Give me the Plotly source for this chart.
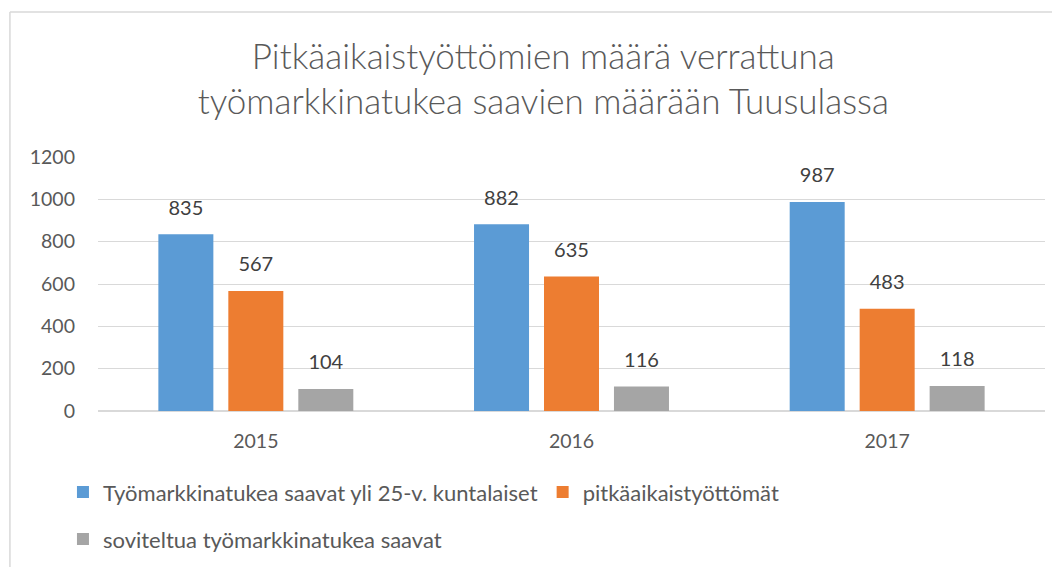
import plotly.graph_objects as go

# -----------------------------------------------------
# Data
# -----------------------------------------------------
years = ["2015", "2016", "2017"]
tyomarkkinatuki_25 = [835, 882, 987]
pitkaaikaistyottomat = [567, 635, 483]
soviteltu = [104, 116, 118]

series_names = [
    "Työmarkkinatukea saavat yli 25-v. kuntalaiset",
    "pitkäaikaistyöttömät",
    "soviteltua työmarkkinatukea saavat",
]
colors = ["#5b9bd5", "#ed7d31", "#a5a5a5"]

FONT = "Lato, 'Open Sans', sans-serif"
TEXT_COLOR = "#595959"
BARGAP = 0.335

fig = go.Figure()

series = [tyomarkkinatuki_25, pitkaaikaistyottomat, soviteltu]
legends = ["legend", "legend", "legend2"]

for i, (name, vals, col, leg) in enumerate(zip(series_names, series, colors, legends)):
    fig.add_trace(go.Bar(
        x=years, y=vals, name=name, marker_color=col,
        marker_line_width=0, offsetgroup=str(i),
        legend=leg,
    ))

# data labels: invisible markers carry the value text above each bar
for i, vals in enumerate(series):
    fig.add_trace(go.Scatter(
        x=years, y=vals, mode="markers+text", text=vals,
        textposition="top center", offsetgroup=str(i),
        marker=dict(size=22, opacity=0),
        textfont=dict(size=20, color="#404040", family=FONT),
        showlegend=False, hoverinfo="skip", cliponaxis=False,
    ))

fig.update_layout(
    width=1060, height=567,
    paper_bgcolor="white", plot_bgcolor="white",
    margin=dict(l=90, r=23, t=149, b=164, autoexpand=False),
    barmode="group", bargap=BARGAP, bargroupgap=0.214,
    scattermode="group", scattergap=BARGAP,
    font=dict(family=FONT, color=TEXT_COLOR, size=19),
    title=dict(
        text="Pitkäaikaistyöttömien määrä verrattuna<br>työmarkkinatukea saavien määrään Tuusulassa",
        x=0.505, xanchor="center", y=0.893, yanchor="top",
        font=dict(size=35, color=TEXT_COLOR, family=FONT, weight=300),
    ),
    legend=dict(
        orientation="h", x=-0.037, xanchor="left", y=-0.32, yanchor="middle",
        font=dict(size=22, color=TEXT_COLOR), itemwidth=30,
    ),
    legend2=dict(
        orientation="h", x=-0.037, xanchor="left", y=-0.505, yanchor="middle",
        font=dict(size=22, color=TEXT_COLOR), itemwidth=30,
    ),
    shapes=[
        dict(type="line", xref="paper", yref="paper",
             x0=-0.093, x1=1.05, y0=1.571, y1=1.571,
             line=dict(color="#d9d9d9", width=1.5)),
        dict(type="line", xref="paper", yref="paper",
             x0=-0.093, x1=-0.093, y0=1.571, y1=-0.7,
             line=dict(color="#d9d9d9", width=1.5)),
    ],
)

fig.update_yaxes(
    range=[0, 1200], dtick=200, showgrid=True, gridcolor="#d9d9d9", gridwidth=1,
    zeroline=True, zerolinecolor="#d9d9d9", zerolinewidth=1.5,
    ticks="", ticklabelstandoff=22, tickfont=dict(size=19.5, color=TEXT_COLOR),
)
fig.update_xaxes(
    showline=False, ticks="", tickfont=dict(size=19.5, color=TEXT_COLOR),
    ticklabelstandoff=16,
)

fig.write_html("out.html")
